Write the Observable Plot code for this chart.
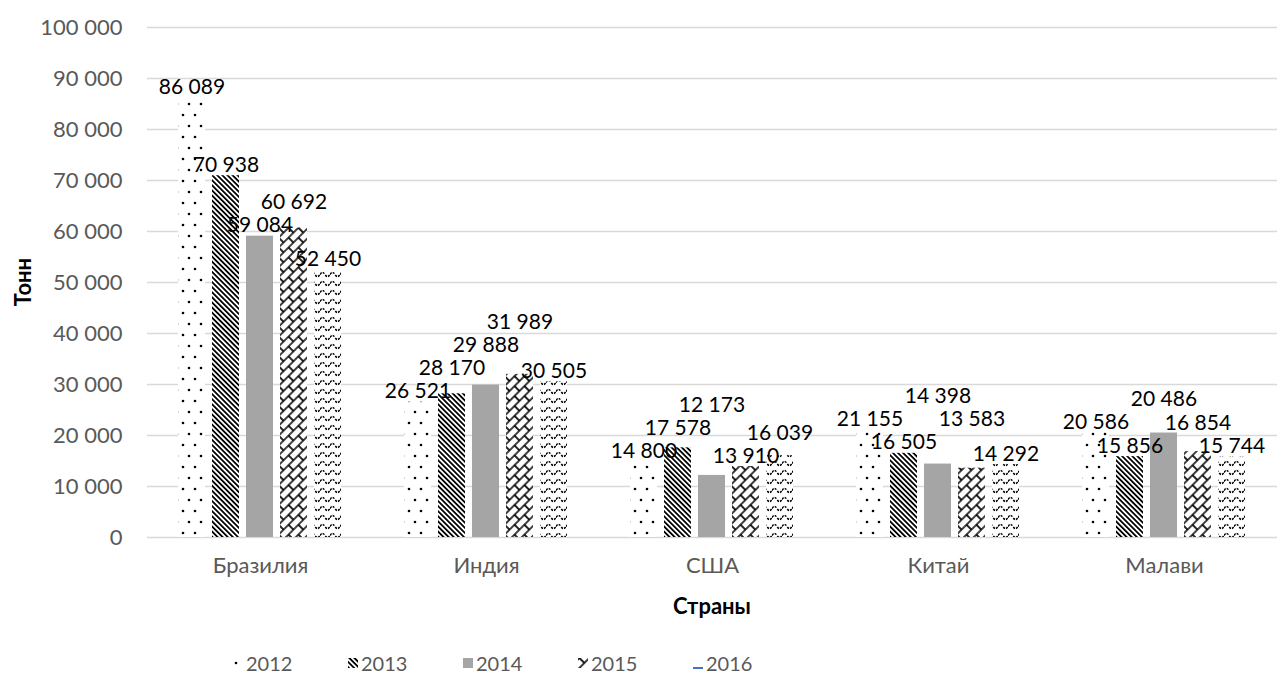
<!DOCTYPE html>
<html>
<head>
<meta charset="utf-8">
<script src="https://cdn.jsdelivr.net/npm/d3@7"></script>
<script src="https://cdn.jsdelivr.net/npm/@observablehq/plot@0.6"></script>
<style>
  html, body { margin: 0; padding: 0; background: #fff; }
  #wrap { position: relative; width: 1277px; height: 677px; overflow: hidden; font-family: Lato, "Open Sans", sans-serif; }
  #chart { position: absolute; left: 0; top: 0; }
  .ttl { position: absolute; font-weight: bold; font-size: 22px; color: #000; white-space: nowrap; }
  #ytitle { left: 22px; top: 282px; transform: translate(-50%, -50%) rotate(-90deg); }
  #xtitle { left: 712px; top: 605px; transform: translate(-50%, -50%); }
  #legend { position: absolute; left: 0; top: 650px; width: 1277px; height: 27px; }
  .li { position: absolute; top: 0; display: flex; align-items: center; gap: 3px; font-size: 20px; color: #595959; line-height: 26px; }
</style>
</head>
<body>
<svg width="0" height="0" style="position:absolute">
  <defs>
    <pattern id="p2012" patternUnits="userSpaceOnUse" width="12" height="22">
      <rect width="12" height="22" fill="#fff"/>
      <circle cx="3" cy="5" r="1.3" fill="#000"/>
      <circle cx="9" cy="16" r="1.3" fill="#000"/>
    </pattern>
    <pattern id="p2013" patternUnits="userSpaceOnUse" width="3.6" height="3.6" patternTransform="rotate(-45)">
      <rect width="3.6" height="3.6" fill="#fff"/>
      <rect width="1.8" height="3.6" fill="#000"/>
    </pattern>
    <pattern id="p2014" patternUnits="userSpaceOnUse" width="4" height="4">
      <rect width="4" height="4" fill="#a5a5a5"/>
    </pattern>
    <pattern id="p2015" patternUnits="userSpaceOnUse" width="14" height="14" patternTransform="rotate(-45)">
      <rect width="14" height="14" fill="#fff"/>
      <path d="M0,1H14M0,8H14M1,1V8M8,8V14M8,0V1" stroke="#000" stroke-width="1.7" fill="none"/>
    </pattern>
    <pattern id="p2016" patternUnits="userSpaceOnUse" width="10" height="9">
      <rect width="10" height="9" fill="#fff"/>
      <path d="M0,4.5 Q2.5,0.5 5,4.5 T10,4.5" stroke="#000" stroke-width="1.5" stroke-dasharray="2.2 1.2" fill="none"/>
    </pattern>
  </defs>
</svg>
<div id="wrap">
  <div id="chart"></div>
  <div class="ttl" id="ytitle">Тонн</div>
  <div class="ttl" id="xtitle">Страны</div>
  <div id="legend"></div>
</div>
<script>
const countries = ["Бразилия", "Индия", "США", "Китай", "Малави"];
const years = ["2012", "2013", "2014", "2015", "2016"];
const v2012 = [86089, 26521, 14800, 21155, 20586];
const v2013 = [70938, 28170, 17578, 16505, 15856];
const v2014 = [59084, 29888, 12173, 14398, 20486];
const v2015 = [60692, 31989, 13910, 13583, 16854];
const v2016 = [52450, 30505, 16039, 14292, 15744];
const yTicks = [0, 10000, 20000, 30000, 40000, 50000, 60000, 70000, 80000, 90000, 100000];

const series = [v2012, v2013, v2014, v2015, v2016];
const rows = countries.flatMap((c, i) => years.map((yr, j) => ({country: c, year: yr, value: series[j][i]})));

// stagger labels of nearby bars so that they do not overlap (about one text line apart)
const labelGap = 4500;
countries.forEach(c => {
  const grp = rows.filter(d => d.country === c);
  grp.forEach((d, j) => {
    d.labelY = d.value;
    const near = grp.slice(Math.max(0, j - 2), j);
    let moved = true;
    while (moved) {
      moved = false;
      for (const o of near) {
        if (Math.abs(d.labelY - o.labelY) < labelGap) { d.labelY = o.labelY + labelGap; moved = true; }
      }
    }
  });
});

const fmt = d3.formatLocale({decimal: ",", thousands: "\u00a0", grouping: [3], currency: ["", ""]}).format(",");

const chart = Plot.plot({
  width: 1277,
  height: 630,
  marginLeft: 147,
  marginRight: 0,
  marginTop: 27,
  marginBottom: 93,
  style: {fontFamily: "Lato, 'Open Sans', sans-serif", fontSize: "22px", color: "#595959", background: "transparent", overflow: "visible"},
  fx: {domain: countries, padding: 0, label: null},
  x: {domain: years, paddingInner: 0.2, paddingOuter: 0.9, axis: null},
  y: {domain: [0, 100000], label: null},
  marks: [
    Plot.gridY({ticks: yTicks, stroke: "#d9d9d9", strokeOpacity: 1, strokeWidth: 1.5}),
    Plot.axisY({ticks: yTicks, tickSize: 0, tickPadding: 25, tickFormat: fmt, label: null, fontSize: 22}),
    Plot.axisFx({anchor: "bottom", tickSize: 0, tickPadding: 20, label: null, fontSize: 22}),
    ...years.map(yr => Plot.barY(rows.filter(d => d.year === yr), {
      fx: "country", x: "year", y: "value", fill: `url(#p${yr})`
    })),
    Plot.text(rows, {
      fx: "country", x: "year", y: "labelY", text: d => fmt(d.value),
      lineAnchor: "bottom", dy: -4, fill: "#000", fontSize: 21
    })
  ]
});
document.getElementById("chart").appendChild(chart);

// legend
const legend = document.getElementById("legend");
years.forEach((yr, i) => {
  const item = document.createElement("div");
  item.className = "li";
  item.style.left = (233 + i * 115) + "px";
  const sw = yr === "2016"
    ? `<svg width="10" height="12"><rect x="0" y="10" width="10" height="2" fill="#4472c4"/></svg>`
    : `<svg width="10" height="10"><rect width="10" height="10" fill="url(#p${yr})"/></svg>`;
  item.innerHTML = sw + `<span>${yr}</span>`;
  legend.appendChild(item);
});
</script>
</body>
</html>
